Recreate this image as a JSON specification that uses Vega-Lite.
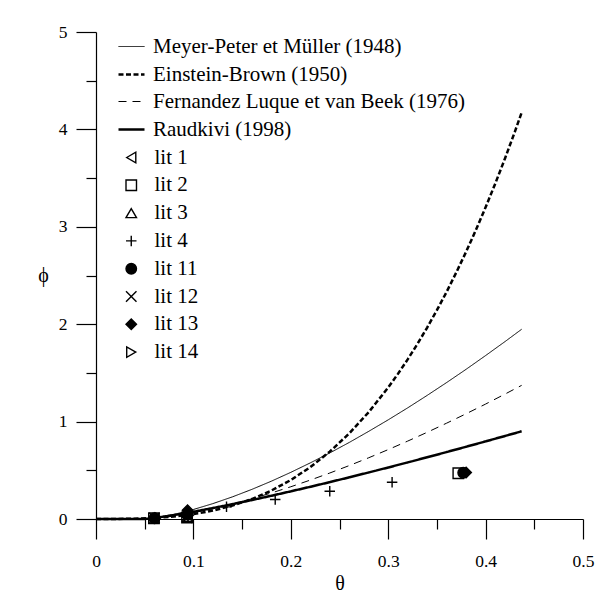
{
  "$schema": "https://vega.github.io/schema/vega-lite/v6.json",
  "width": 487,
  "height": 487,
  "autosize": {"type": "none"},
  "padding": {"left": 96, "top": 32, "right": 16, "bottom": 84},
  "background": "white",
  "config": {
    "view": {"stroke": null},
    "font": "Liberation Serif",
    "axis": {
      "grid": false,
      "domainColor": "black",
      "domainWidth": 1.2,
      "tickColor": "black",
      "tickWidth": 1.2,
      "labelColor": "black",
      "labelFont": "Liberation Serif",
      "labelFontSize": 17.5,
      "titleFont": "Liberation Serif",
      "titleFontSize": 20,
      "titleFontWeight": "normal",
      "titleColor": "black",
      "labelOverlap": false,
      "labelFlush": false,
      "labelBound": false
    },
    "legend": {
      "labelFont": "Liberation Serif",
      "labelColor": "black",
      "labelFontSize": 21,
      "labelLimit": 600,
      "padding": 0
    }
  },
  "layer": [
    {
      "data": {
        "values": [
          {"series": "Meyer-Peter et Müller (1948)", "theta": 0, "phi": 0},
          {"series": "Meyer-Peter et Müller (1948)", "theta": 0.02, "phi": 0},
          {"series": "Meyer-Peter et Müller (1948)", "theta": 0.047, "phi": 0},
          {"series": "Meyer-Peter et Müller (1948)", "theta": 0.05, "phi": 0.0013},
          {"series": "Meyer-Peter et Müller (1948)", "theta": 0.06, "phi": 0.0119},
          {"series": "Meyer-Peter et Müller (1948)", "theta": 0.07, "phi": 0.0279},
          {"series": "Meyer-Peter et Müller (1948)", "theta": 0.08, "phi": 0.048},
          {"series": "Meyer-Peter et Müller (1948)", "theta": 0.09, "phi": 0.0713},
          {"series": "Meyer-Peter et Müller (1948)", "theta": 0.1, "phi": 0.0976},
          {"series": "Meyer-Peter et Müller (1948)", "theta": 0.12, "phi": 0.158},
          {"series": "Meyer-Peter et Müller (1948)", "theta": 0.14, "phi": 0.227},
          {"series": "Meyer-Peter et Müller (1948)", "theta": 0.16, "phi": 0.304},
          {"series": "Meyer-Peter et Müller (1948)", "theta": 0.18, "phi": 0.388},
          {"series": "Meyer-Peter et Müller (1948)", "theta": 0.2, "phi": 0.479},
          {"series": "Meyer-Peter et Müller (1948)", "theta": 0.22, "phi": 0.576},
          {"series": "Meyer-Peter et Müller (1948)", "theta": 0.24, "phi": 0.678},
          {"series": "Meyer-Peter et Müller (1948)", "theta": 0.26, "phi": 0.786},
          {"series": "Meyer-Peter et Müller (1948)", "theta": 0.28, "phi": 0.9},
          {"series": "Meyer-Peter et Müller (1948)", "theta": 0.3, "phi": 1.018},
          {"series": "Meyer-Peter et Müller (1948)", "theta": 0.32, "phi": 1.141},
          {"series": "Meyer-Peter et Müller (1948)", "theta": 0.34, "phi": 1.269},
          {"series": "Meyer-Peter et Müller (1948)", "theta": 0.36, "phi": 1.401},
          {"series": "Meyer-Peter et Müller (1948)", "theta": 0.38, "phi": 1.537},
          {"series": "Meyer-Peter et Müller (1948)", "theta": 0.4, "phi": 1.678},
          {"series": "Meyer-Peter et Müller (1948)", "theta": 0.42, "phi": 1.822},
          {"series": "Meyer-Peter et Müller (1948)", "theta": 0.437, "phi": 1.948},
          {"series": "Einstein-Brown (1950)", "theta": 0, "phi": 0},
          {"series": "Einstein-Brown (1950)", "theta": 0.02, "phi": 0.0004},
          {"series": "Einstein-Brown (1950)", "theta": 0.04, "phi": 0.0032},
          {"series": "Einstein-Brown (1950)", "theta": 0.06, "phi": 0.0108},
          {"series": "Einstein-Brown (1950)", "theta": 0.08, "phi": 0.0256},
          {"series": "Einstein-Brown (1950)", "theta": 0.1, "phi": 0.05},
          {"series": "Einstein-Brown (1950)", "theta": 0.12, "phi": 0.0864},
          {"series": "Einstein-Brown (1950)", "theta": 0.14, "phi": 0.1372},
          {"series": "Einstein-Brown (1950)", "theta": 0.16, "phi": 0.2048},
          {"series": "Einstein-Brown (1950)", "theta": 0.18, "phi": 0.2916},
          {"series": "Einstein-Brown (1950)", "theta": 0.2, "phi": 0.4},
          {"series": "Einstein-Brown (1950)", "theta": 0.22, "phi": 0.5324},
          {"series": "Einstein-Brown (1950)", "theta": 0.24, "phi": 0.6912},
          {"series": "Einstein-Brown (1950)", "theta": 0.26, "phi": 0.8788},
          {"series": "Einstein-Brown (1950)", "theta": 0.28, "phi": 1.0976},
          {"series": "Einstein-Brown (1950)", "theta": 0.3, "phi": 1.35},
          {"series": "Einstein-Brown (1950)", "theta": 0.31, "phi": 1.49},
          {"series": "Einstein-Brown (1950)", "theta": 0.32, "phi": 1.6384},
          {"series": "Einstein-Brown (1950)", "theta": 0.33, "phi": 1.797},
          {"series": "Einstein-Brown (1950)", "theta": 0.34, "phi": 1.9652},
          {"series": "Einstein-Brown (1950)", "theta": 0.35, "phi": 2.144},
          {"series": "Einstein-Brown (1950)", "theta": 0.36, "phi": 2.3328},
          {"series": "Einstein-Brown (1950)", "theta": 0.37, "phi": 2.533},
          {"series": "Einstein-Brown (1950)", "theta": 0.38, "phi": 2.7436},
          {"series": "Einstein-Brown (1950)", "theta": 0.39, "phi": 2.966},
          {"series": "Einstein-Brown (1950)", "theta": 0.4, "phi": 3.2},
          {"series": "Einstein-Brown (1950)", "theta": 0.41, "phi": 3.446},
          {"series": "Einstein-Brown (1950)", "theta": 0.42, "phi": 3.7044},
          {"series": "Einstein-Brown (1950)", "theta": 0.43, "phi": 3.975},
          {"series": "Einstein-Brown (1950)", "theta": 0.437, "phi": 4.1727},
          {"series": "Fernandez Luque et van Beek (1976)", "theta": 0, "phi": 0},
          {"series": "Fernandez Luque et van Beek (1976)", "theta": 0.02, "phi": 0},
          {"series": "Fernandez Luque et van Beek (1976)", "theta": 0.05, "phi": 0},
          {"series": "Fernandez Luque et van Beek (1976)", "theta": 0.06, "phi": 0.0057},
          {"series": "Fernandez Luque et van Beek (1976)", "theta": 0.08, "phi": 0.0296},
          {"series": "Fernandez Luque et van Beek (1976)", "theta": 0.1, "phi": 0.0637},
          {"series": "Fernandez Luque et van Beek (1976)", "theta": 0.12, "phi": 0.1056},
          {"series": "Fernandez Luque et van Beek (1976)", "theta": 0.14, "phi": 0.1539},
          {"series": "Fernandez Luque et van Beek (1976)", "theta": 0.16, "phi": 0.208},
          {"series": "Fernandez Luque et van Beek (1976)", "theta": 0.18, "phi": 0.267},
          {"series": "Fernandez Luque et van Beek (1976)", "theta": 0.2, "phi": 0.331},
          {"series": "Fernandez Luque et van Beek (1976)", "theta": 0.22, "phi": 0.3995},
          {"series": "Fernandez Luque et van Beek (1976)", "theta": 0.24, "phi": 0.472},
          {"series": "Fernandez Luque et van Beek (1976)", "theta": 0.26, "phi": 0.5485},
          {"series": "Fernandez Luque et van Beek (1976)", "theta": 0.28, "phi": 0.6287},
          {"series": "Fernandez Luque et van Beek (1976)", "theta": 0.3, "phi": 0.7125},
          {"series": "Fernandez Luque et van Beek (1976)", "theta": 0.32, "phi": 0.7997},
          {"series": "Fernandez Luque et van Beek (1976)", "theta": 0.34, "phi": 0.89},
          {"series": "Fernandez Luque et van Beek (1976)", "theta": 0.36, "phi": 0.984},
          {"series": "Fernandez Luque et van Beek (1976)", "theta": 0.38, "phi": 1.0806},
          {"series": "Fernandez Luque et van Beek (1976)", "theta": 0.4, "phi": 1.18},
          {"series": "Fernandez Luque et van Beek (1976)", "theta": 0.42, "phi": 1.283},
          {"series": "Fernandez Luque et van Beek (1976)", "theta": 0.437, "phi": 1.372},
          {"series": "Raudkivi (1998)", "theta": 0, "phi": 0},
          {"series": "Raudkivi (1998)", "theta": 0.02, "phi": 0},
          {"series": "Raudkivi (1998)", "theta": 0.05, "phi": 0},
          {"series": "Raudkivi (1998)", "theta": 0.06, "phi": 0.0105},
          {"series": "Raudkivi (1998)", "theta": 0.08, "phi": 0.04},
          {"series": "Raudkivi (1998)", "theta": 0.1, "phi": 0.0744},
          {"series": "Raudkivi (1998)", "theta": 0.12, "phi": 0.1122},
          {"series": "Raudkivi (1998)", "theta": 0.14, "phi": 0.1524},
          {"series": "Raudkivi (1998)", "theta": 0.16, "phi": 0.1946},
          {"series": "Raudkivi (1998)", "theta": 0.18, "phi": 0.2385},
          {"series": "Raudkivi (1998)", "theta": 0.2, "phi": 0.2839},
          {"series": "Raudkivi (1998)", "theta": 0.22, "phi": 0.3306},
          {"series": "Raudkivi (1998)", "theta": 0.24, "phi": 0.3786},
          {"series": "Raudkivi (1998)", "theta": 0.26, "phi": 0.4278},
          {"series": "Raudkivi (1998)", "theta": 0.28, "phi": 0.4778},
          {"series": "Raudkivi (1998)", "theta": 0.3, "phi": 0.5289},
          {"series": "Raudkivi (1998)", "theta": 0.32, "phi": 0.5809},
          {"series": "Raudkivi (1998)", "theta": 0.34, "phi": 0.6336},
          {"series": "Raudkivi (1998)", "theta": 0.36, "phi": 0.6873},
          {"series": "Raudkivi (1998)", "theta": 0.38, "phi": 0.7417},
          {"series": "Raudkivi (1998)", "theta": 0.4, "phi": 0.7968},
          {"series": "Raudkivi (1998)", "theta": 0.42, "phi": 0.8526},
          {"series": "Raudkivi (1998)", "theta": 0.437, "phi": 0.9005}
        ]
      },
      "mark": {"type": "line", "color": "black", "strokeCap": "butt"},
      "encoding": {
        "x": {
          "field": "theta",
          "type": "quantitative",
          "scale": {"domain": [0, 0.5], "nice": false, "zero": true},
          "axis": {
            "orient": "bottom",
            "title": "θ",
            "values": [0, 0.05, 0.1, 0.15, 0.2, 0.25, 0.3, 0.35, 0.4, 0.45, 0.5],
            "labelExpr": "abs(datum.value*10-round(datum.value*10))<0.000001 ? format(datum.value, '~g') : ''",
            "tickSize": {"condition": {"test": "abs(datum.value*10-round(datum.value*10))<0.000001", "value": 20}, "value": 10},
            "labelPadding": 13,
            "titleX": 243.5,
            "titleY": 64,
            "titleBaseline": "middle",
            "titleAlign": "center"
          }
        },
        "y": {
          "field": "phi",
          "type": "quantitative",
          "scale": {"domain": [0, 5], "nice": false, "zero": true},
          "axis": {
            "orient": "left",
            "title": "ϕ",
            "values": [0, 0.5, 1, 1.5, 2, 2.5, 3, 3.5, 4, 4.5, 5],
            "labelExpr": "datum.value % 1 === 0 ? format(datum.value, '~g') : ''",
            "tickSize": {"condition": {"test": "datum.value % 1 === 0", "value": 20}, "value": 10},
            "labelPadding": 9,
            "titleAngle": 0,
            "titleX": -53,
            "titleY": 243.5,
            "titleBaseline": "middle",
            "titleAlign": "center"
          }
        },
        "strokeDash": {
          "field": "series",
          "type": "nominal",
          "scale": {
            "domain": ["Meyer-Peter et Müller (1948)", "Einstein-Brown (1950)", "Fernandez Luque et van Beek (1976)", "Raudkivi (1998)"],
            "range": [[1, 0], [5, 2.5], [8, 6], [1, 0]]
          },
          "legend": {"title": null, "orient": "none", "legendX": 21, "legendY": 1, "symbolType": "stroke", "symbolSize": 676, "symbolStrokeColor": "black", "labelOffset": 7, "rowPadding": 3}
        },
        "strokeWidth": {
          "field": "series",
          "type": "nominal",
          "scale": {
            "type": "ordinal",
            "domain": ["Meyer-Peter et Müller (1948)", "Einstein-Brown (1950)", "Fernandez Luque et van Beek (1976)", "Raudkivi (1998)"],
            "range": [1, 2.5, 1, 2.5]
          },
          "legend": {"title": null, "orient": "none", "legendX": 21, "legendY": 1, "symbolType": "stroke", "symbolSize": 676, "symbolStrokeColor": "black", "labelOffset": 7, "rowPadding": 3}
        }
      }
    },
    {
      "data": {
        "values": [
          {"lit": "lit 2", "theta": 0.0595, "phi": 0.008},
          {"lit": "lit 11", "theta": 0.06, "phi": 0.008},
          {"lit": "lit 12", "theta": 0.06, "phi": 0.01},
          {"lit": "lit 13", "theta": 0.0605, "phi": 0.01},
          {"lit": "lit 1", "theta": 0.093, "phi": 0.02},
          {"lit": "lit 2", "theta": 0.0935, "phi": 0.015},
          {"lit": "lit 3", "theta": 0.094, "phi": 0.02},
          {"lit": "lit 14", "theta": 0.095, "phi": 0.035},
          {"lit": "lit 11", "theta": 0.094, "phi": 0.05},
          {"lit": "lit 13", "theta": 0.094, "phi": 0.09},
          {"lit": "lit 4", "theta": 0.134, "phi": 0.125},
          {"lit": "lit 4", "theta": 0.184, "phi": 0.2},
          {"lit": "lit 4", "theta": 0.24, "phi": 0.285},
          {"lit": "lit 4", "theta": 0.304, "phi": 0.377},
          {"lit": "lit 2", "theta": 0.372, "phi": 0.47},
          {"lit": "lit 11", "theta": 0.377, "phi": 0.475},
          {"lit": "lit 13", "theta": 0.38, "phi": 0.478}
        ]
      },
      "mark": {"type": "point", "strokeWidth": 1.4, "size": 110, "opacity": 1},
      "encoding": {
        "x": {"field": "theta", "type": "quantitative"},
        "y": {"field": "phi", "type": "quantitative"},
        "shape": {
          "field": "lit",
          "type": "nominal",
          "scale": {
            "domain": ["lit 1", "lit 2", "lit 3", "lit 4", "lit 11", "lit 12", "lit 13", "lit 14"],
            "range": ["triangle-left", "square", "triangle-up", "M-1,0H1M0,-1V1", "circle", "M-1,-1L1,1M-1,1L1,-1", "diamond", "triangle-right"]
          },
          "legend": {"title": null, "orient": "none", "legendX": 24.75, "legendY": 115, "symbolSize": 110, "symbolStrokeWidth": 1.4, "labelOffset": 12.75, "rowPadding": 5.8}
        },
        "fill": {
          "field": "lit",
          "type": "nominal",
          "scale": {
            "domain": ["lit 1", "lit 2", "lit 3", "lit 4", "lit 11", "lit 12", "lit 13", "lit 14"],
            "range": ["transparent", "transparent", "transparent", "transparent", "black", "transparent", "black", "transparent"]
          },
          "legend": {"title": null, "orient": "none", "legendX": 24.75, "legendY": 115, "symbolSize": 110, "symbolStrokeWidth": 1.4, "labelOffset": 12.75, "rowPadding": 5.8}
        },
        "stroke": {
          "field": "lit",
          "type": "nominal",
          "scale": {
            "domain": ["lit 1", "lit 2", "lit 3", "lit 4", "lit 11", "lit 12", "lit 13", "lit 14"],
            "range": ["black", "black", "black", "black", "black", "black", "black", "black"]
          },
          "legend": {"title": null, "orient": "none", "legendX": 24.75, "legendY": 115, "symbolSize": 110, "symbolStrokeWidth": 1.4, "labelOffset": 12.75, "rowPadding": 5.8}
        }
      }
    }
  ]
}
